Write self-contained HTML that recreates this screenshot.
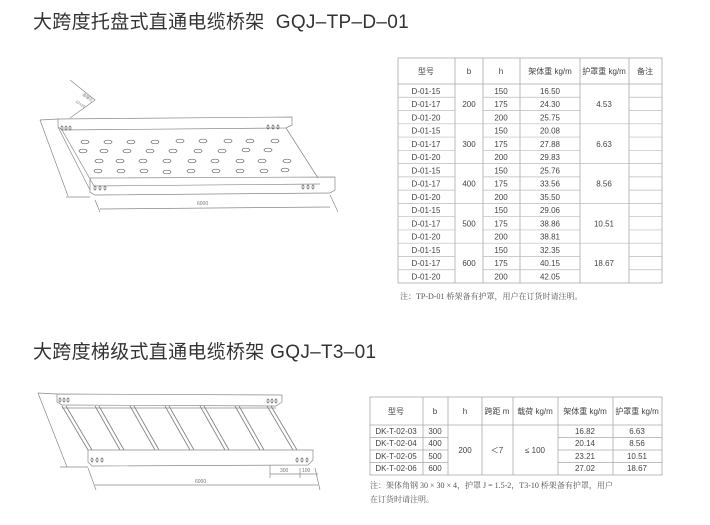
<!DOCTYPE html>
<html><head><meta charset="utf-8"><style>
html,body{margin:0;padding:0;background:#fff;}
body{width:710px;height:525px;overflow:hidden;position:relative;font-family:"Liberation Sans","Noto Sans CJK SC",sans-serif;}
.t{position:absolute;left:33px;font-size:19px;color:#333;white-space:nowrap;letter-spacing:0.3px;}
svg{position:absolute;left:0;top:0;}
</style></head><body>
<div class="t" style="top:7px">大跨度托盘式直通电缆桥架&nbsp;&nbsp;GQJ–TP–D–01</div>
<div class="t" style="top:337px">大跨度梯级式直通电缆桥架 GQJ–T3–01</div>
<svg width="710" height="525" xmlns="http://www.w3.org/2000/svg" font-family="Liberation Sans, Noto Sans CJK SC, sans-serif">
<!-- Drawing 1 -->
<g stroke="#888" stroke-width="0.7" fill="none">
<path d="M58,119 L292,117 L292,125 L286,128 L62,130 L58,127 Z"/>
<path d="M58,127 L90,190"/>
<path d="M62,130 L94,186"/>
<path d="M286,128 L318,178"/>
<path d="M90,178 L335,177 L335,190 L330,193 L95,195 L90,192 Z"/>
<path d="M94,186 L320,184"/>
<path d="M70,80 L95,100 L70,118"/>
<path d="M40,120 L68,196"/>
<path d="M40,120 L58,119"/>
<path d="M66,197 L90,197"/>
<path d="M95,200 L100,212"/>
<path d="M100,209 L330,207"/>
<path d="M330,195 L338,212"/>
</g>
<g fill="#fff" stroke="#666" stroke-width="0.7">
<ellipse cx="85" cy="142" rx="4" ry="1.8"/><ellipse cx="108" cy="142" rx="4" ry="1.8"/><ellipse cx="131" cy="142" rx="4" ry="1.8"/><ellipse cx="155" cy="142" rx="4" ry="1.8"/><ellipse cx="180" cy="141" rx="4" ry="1.8"/><ellipse cx="203" cy="141" rx="4" ry="1.8"/><ellipse cx="228" cy="141" rx="4" ry="1.8"/><ellipse cx="250" cy="141" rx="4" ry="1.8"/><ellipse cx="275" cy="141" rx="4" ry="1.8"/>
<ellipse cx="83" cy="151" rx="4" ry="1.8"/><ellipse cx="104" cy="151" rx="4" ry="1.8"/><ellipse cx="127" cy="151" rx="4" ry="1.8"/><ellipse cx="150" cy="151" rx="4" ry="1.8"/><ellipse cx="173" cy="151" rx="4" ry="1.8"/><ellipse cx="198" cy="151" rx="4" ry="1.8"/><ellipse cx="222" cy="151" rx="4" ry="1.8"/><ellipse cx="246" cy="150" rx="4" ry="1.8"/><ellipse cx="268" cy="150" rx="4" ry="1.8"/>
<ellipse cx="99" cy="161" rx="4" ry="1.8"/><ellipse cx="120" cy="161" rx="4" ry="1.8"/><ellipse cx="143" cy="161" rx="4" ry="1.8"/><ellipse cx="167" cy="161" rx="4" ry="1.8"/><ellipse cx="192" cy="161" rx="4" ry="1.8"/><ellipse cx="215" cy="161" rx="4" ry="1.8"/><ellipse cx="240" cy="161" rx="4" ry="1.8"/><ellipse cx="262" cy="161" rx="4" ry="1.8"/><ellipse cx="287" cy="161" rx="4" ry="1.8"/>
<ellipse cx="98" cy="171" rx="4" ry="1.8"/><ellipse cx="121" cy="171" rx="4" ry="1.8"/><ellipse cx="144" cy="171" rx="4" ry="1.8"/><ellipse cx="167" cy="172" rx="4" ry="1.8"/><ellipse cx="191" cy="171" rx="4" ry="1.8"/><ellipse cx="216" cy="171" rx="4" ry="1.8"/><ellipse cx="240" cy="171" rx="4" ry="1.8"/><ellipse cx="264" cy="171" rx="4" ry="1.8"/><ellipse cx="285" cy="170" rx="4" ry="1.8"/>
</g>
<g fill="none" stroke="#666" stroke-width="0.7">
<ellipse cx="62" cy="128" rx="1" ry="2"/><ellipse cx="66" cy="128" rx="1" ry="2"/><ellipse cx="70" cy="128" rx="1" ry="2"/>
<ellipse cx="268" cy="127" rx="1" ry="2"/><ellipse cx="273" cy="127" rx="1" ry="2"/><ellipse cx="278" cy="127" rx="1" ry="2"/>
<ellipse cx="95" cy="188" rx="1" ry="2"/><ellipse cx="100" cy="188" rx="1" ry="2"/><ellipse cx="105" cy="188" rx="1" ry="2"/>
<ellipse cx="303" cy="187" rx="1" ry="2"/><ellipse cx="308" cy="187" rx="1" ry="2"/><ellipse cx="313" cy="187" rx="1" ry="2"/>
</g>
<text x="197" y="205" font-size="5" fill="#777">6000</text>
<text x="82" y="95" font-size="4" fill="#777" transform="rotate(35 82 95)">连接孔</text>
<text x="75" y="102" font-size="4" fill="#777" transform="rotate(35 75 102)">10×20</text>

<!-- Drawing 2 -->
<g stroke="#888" stroke-width="0.7" fill="none">
<path d="M57,394 L282,395 L282,402 L276,406 L62,405 L57,402 Z"/>
<path d="M62,408 L276,408"/>
<path d="M88,450 L313,450 L313,460 L308,465 L92,466 L88,462 Z"/>
<path d="M38,393 L57,394 M38,393 L67,467 M60,467 L88,467"/>
<path d="M88,468 L96,490 M95,485 L318,485 M315,468 L320,490"/>
<path d="M270,474 L318,474 M270,465 L270,478 M300,468 L300,478"/>
</g>
<g stroke="#888" stroke-width="0.9" fill="none">
<path d="M62,406 L88,450 M66,406 L92,450"/>
<path d="M95,406 L120,450 M99,406 L124,450"/>
<path d="M130,406 L155,450 M134,406 L159,450"/>
<path d="M165,406 L190,450 M169,406 L194,450"/>
<path d="M200,406 L225,450 M204,406 L229,450"/>
<path d="M235,406 L260,450 M239,406 L264,450"/>
<path d="M267,406 L293,450 M271,406 L297,450"/>
</g>
<g fill="none" stroke="#666" stroke-width="0.7">
<ellipse cx="60" cy="400" rx="1" ry="2"/><ellipse cx="64" cy="400" rx="1" ry="2"/><ellipse cx="68" cy="400" rx="1" ry="2"/>
<ellipse cx="268" cy="401" rx="1" ry="2"/><ellipse cx="272" cy="401" rx="1" ry="2"/><ellipse cx="276" cy="401" rx="1" ry="2"/>
<ellipse cx="92" cy="460" rx="1" ry="2"/><ellipse cx="97" cy="460" rx="1" ry="2"/><ellipse cx="102" cy="460" rx="1" ry="2"/>
<ellipse cx="297" cy="460" rx="1" ry="2"/><ellipse cx="302" cy="460" rx="1" ry="2"/><ellipse cx="307" cy="460" rx="1" ry="2"/>
</g>
<text x="195" y="483" font-size="5" fill="#777">6000</text>
<text x="280" y="472" font-size="5" fill="#777">300</text>
<text x="302" y="472" font-size="5" fill="#777">100</text>

<!-- Table 1 -->
<g stroke="#aaa" stroke-width="0.8" fill="none">
<rect x="398" y="58" width="264" height="225"/>
<line x1="398" y1="84" x2="662" y2="84"/>
<line x1="455" y1="58" x2="455" y2="283"/>
<line x1="483" y1="58" x2="483" y2="283"/>
<line x1="520" y1="58" x2="520" y2="283"/>
<line x1="580" y1="58" x2="580" y2="283"/>
<line x1="629" y1="58" x2="629" y2="283"/>
</g>
<g stroke="#bbb" stroke-width="0.7" id="rl1"></g>
<g fill="#444" font-size="8" text-anchor="middle" id="t1">
<text x="426" y="74">型号</text><text x="469" y="74">b</text><text x="501" y="74">h</text>
<text x="550" y="74">架体重 kg/m</text><text x="604" y="74">护罩重 kg/m</text><text x="645" y="74">备注</text>
</g>
<text x="400" y="299" font-size="8" fill="#555" font-family="Liberation Serif, Noto Serif CJK SC, serif">注：TP-D-01 桥架备有护罩，用户在订货时请注明。</text>

<!-- Table 2 -->
<g stroke="#aaa" stroke-width="0.8" fill="none">
<rect x="370" y="397" width="292" height="78"/>
<line x1="370" y1="425" x2="662" y2="425"/>
<line x1="423" y1="397" x2="423" y2="475"/>
<line x1="448" y1="397" x2="448" y2="475"/>
<line x1="482" y1="397" x2="482" y2="475"/>
<line x1="513" y1="397" x2="513" y2="475"/>
<line x1="558" y1="397" x2="558" y2="475"/>
<line x1="613" y1="397" x2="613" y2="475"/>
<line x1="370" y1="437.5" x2="448" y2="437.5"/><line x1="558" y1="437.5" x2="662" y2="437.5"/>
<line x1="370" y1="450" x2="448" y2="450"/><line x1="558" y1="450" x2="662" y2="450"/>
<line x1="370" y1="462.5" x2="448" y2="462.5"/><line x1="558" y1="462.5" x2="662" y2="462.5"/>
</g>
<g fill="#444" font-size="8" text-anchor="middle">
<text x="396" y="414">型号</text><text x="435" y="414">b</text><text x="465" y="414">h</text>
<text x="497" y="414">跨距 m</text><text x="535" y="414">载荷 kg/m</text><text x="585" y="414">架体重 kg/m</text><text x="637" y="414">护罩重 kg/m</text>
<text x="396" y="434">DK-T-02-03</text><text x="435" y="434">300</text><text x="585" y="434">16.82</text><text x="637" y="434">6.63</text>
<text x="396" y="446">DK-T-02-04</text><text x="435" y="446">400</text><text x="585" y="446">20.14</text><text x="637" y="446">8.56</text>
<text x="396" y="459">DK-T-02-05</text><text x="435" y="459">500</text><text x="585" y="459">23.21</text><text x="637" y="459">10.51</text>
<text x="396" y="471">DK-T-02-06</text><text x="435" y="471">600</text><text x="585" y="471">27.02</text><text x="637" y="471">18.67</text>
<text x="465" y="453">200</text><text x="497" y="453">＜7</text><text x="535" y="453">≤ 100</text>
</g>
<text x="370" y="488" font-size="8" fill="#555" font-family="Liberation Serif, Noto Serif CJK SC, serif">注：架体角钢 30 × 30 × 4，护罩 J = 1.5-2，T3-10 桥架备有护罩，用户</text>
<text x="370" y="502" font-size="8" fill="#555" font-family="Liberation Serif, Noto Serif CJK SC, serif">在订货时请注明。</text>
</svg>
<script>
(function(){
var ns="http://www.w3.org/2000/svg";
var rl=document.getElementById("rl1"),t=document.getElementById("t1");
var h=(283-84)/15;
var bs=["200","300","400","500","600"],cov=["4.53","6.63","8.56","10.51","18.67"];
var w=["16.50","24.30","25.75","20.08","27.88","29.83","25.76","33.56","35.50","29.06","38.86","38.81","32.35","40.15","42.05"];
var ids=["D-01-15","D-01-17","D-01-20"],hs=["150","175","200"];
function L(x1,y1,x2,y2){var l=document.createElementNS(ns,"line");l.setAttribute("x1",x1);l.setAttribute("y1",y1);l.setAttribute("x2",x2);l.setAttribute("y2",y2);rl.appendChild(l);}
function T(x,y,s){var e=document.createElementNS(ns,"text");e.setAttribute("x",x);e.setAttribute("y",y);e.textContent=s;t.appendChild(e);}
for(var i=0;i<15;i++){var y=84+i*h;
 if(i>0){if(i%3==0){L(398,y,662,y);}else{L(398,y,455,y);L(483,y,580,y);L(629,y,662,y);}}
 T(426,y+h-3.5,ids[i%3]);T(501,y+h-3.5,hs[i%3]);T(550,y+h-3.5,w[i]);
 if(i%3==1){T(469,y+h-3.5,bs[(i-1)/3]);T(604,y+h-3.5,cov[(i-1)/3]);}
}})();
</script>
</body></html>
